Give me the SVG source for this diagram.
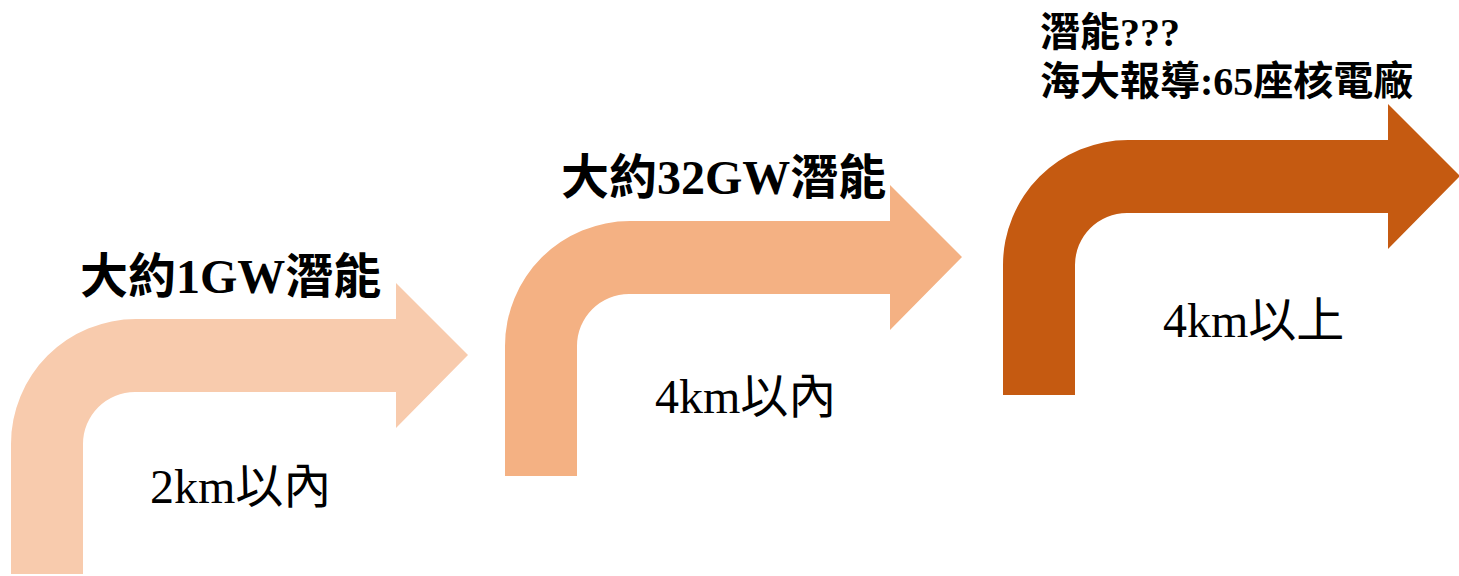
<svg xmlns="http://www.w3.org/2000/svg" width="1459" height="576" viewBox="0 0 1459 576">
<style>
  .t { font-family: "Liberation Serif", "Noto Sans CJK TC", serif; fill: #000; }
  .b { font-weight: bold; }
  .big { font-size: 48px; }
  .mid { font-size: 40px; }
</style>
<defs>
  <path id="bent" d="M 11 574 L 11 444 A 125 125 0 0 1 136 319 L 396 319 L 396 283 L 468 355 L 396 428 L 396 392 L 135 392 A 52 52 0 0 0 83 444 L 83 574 Z"/>
</defs>
<rect width="1459" height="576" fill="#fff"/>
<g id="arrow1">
  <use href="#bent" fill="#F8CBAD"/>
  <text class="t b big" x="80" y="293">大約1GW潛能</text>
  <text class="t big" x="150" y="503">2km以內</text>
</g>
<g id="arrow2">
  <use href="#bent" fill="#F4B183" transform="translate(494,-98)"/>
  <text class="t b big" x="561" y="194">大約32GW潛能</text>
  <text class="t big" x="655" y="413">4km以內</text>
</g>
<g id="arrow3">
  <use href="#bent" fill="#C55A11" transform="translate(992,-179)"/>
  <text class="t b mid" x="1040" y="46">潛能???</text>
  <text class="t b mid" x="1040" y="95">海大報導:65座核電廠</text>
  <text class="t big" x="1163" y="337">4km以上</text>
</g>
<g id="connectors"></g>
</svg>
